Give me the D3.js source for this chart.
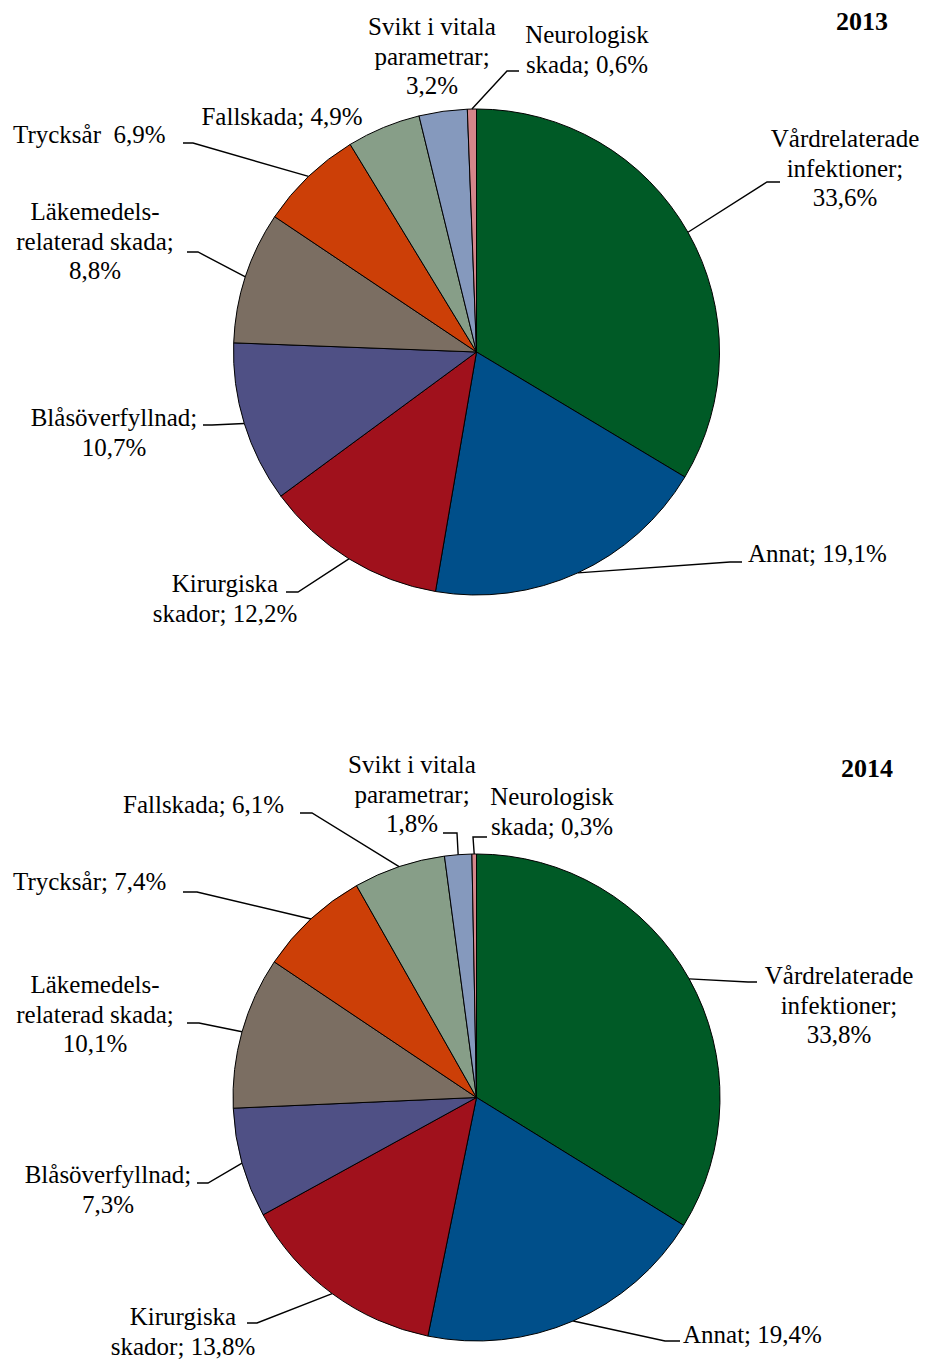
<!DOCTYPE html>
<html>
<head>
<meta charset="utf-8">
<script src="https://cdn.jsdelivr.net/npm/d3@7"></script>
<style>
	html, body { margin: 0; padding: 0; background: #fff; }
	svg text { font-family: "Times New Roman", "Liberation Serif", serif; font-size: 25px; fill: #000; white-space: pre; }
</style>
</head>
<body>
<div id="chart"></div>
<script>
// Data
const years = ["2013", "2014"];
const categories = [
	"Vårdrelaterade infektioner",
	"Annat",
	"Kirurgiska skador",
	"Blåsöverfyllnad",
	"Läkemedelsrelaterad skada",
	"Trycksår",
	"Fallskada",
	"Svikt i vitala parametrar",
	"Neurologisk skada",
];
const values2013 = [33.6, 19.1, 12.2, 10.7, 8.8, 6.9, 4.9, 3.2, 0.6];
const values2014 = [33.8, 19.4, 13.8, 7.3, 10.1, 7.4, 6.1, 1.8, 0.3];

// label text, {v} is replaced by the value
const labels2013 = [
	["Vårdrelaterade", "infektioner;", "{v}"],
	["Annat; {v}"],
	["Kirurgiska", "skador; {v}"],
	["Blåsöverfyllnad;", "{v}"],
	["Läkemedels-", "relaterad skada;", "{v}"],
	["Trycksår  {v}"],
	["Fallskada; {v}"],
	["Svikt i vitala", "parametrar;", "{v}"],
	["Neurologisk", "skada; {v}"],
];
const labels2014 = [
	["Vårdrelaterade", "infektioner;", "{v}"],
	["Annat; {v}"],
	["Kirurgiska", "skador; {v}"],
	["Blåsöverfyllnad;", "{v}"],
	["Läkemedels-", "relaterad skada;", "{v}"],
	["Trycksår; {v}"],
	["Fallskada; {v}"],
	["Svikt i vitala", "parametrar;", "{v}"],
	["Neurologisk", "skada; {v}"],
];

const colors = ["#005a26", "#004f8a", "#a0111c", "#4f5085", "#7b6e62", "#cc3f07", "#879e88", "#8599bd", "#d4868a"];

// Layout (label positions, leader stubs)
const layout2013 = {
	cx: 476.5, cy: 352, r: 243, title: [862, 30],
	labels: [
		{ x: 845, y: 147, anchor: "middle", stub: [[780, 182], [767, 182]] },
		{ x: 748, y: 562, anchor: "start", stub: [[742, 562], [730, 562]] },
		{ x: 225, y: 592, anchor: "middle", stub: [[286, 592], [298, 592]] },
		{ x: 114, y: 426, anchor: "middle", stub: [[203, 425], [212, 425]] },
		{ x: 95, y: 220, anchor: "middle", stub: [[187, 252], [198, 252]] },
		{ x: 13, y: 143, anchor: "start", stub: [[183, 143], [193, 143]] },
		{ x: 282, y: 125, anchor: "middle", stub: null },
		{ x: 432, y: 35, anchor: "middle", stub: null },
		{ x: 587, y: 43, anchor: "middle", stub: [[519, 71], [507, 71]] },
	],
};
const layout2014 = {
	cx: 476.5, cy: 1097.5, r: 243.5, title: [867, 777],
	labels: [
		{ x: 839, y: 984, anchor: "middle", stub: [[757, 982], [748, 982]] },
		{ x: 683, y: 1343, anchor: "start", stub: [[680, 1341], [665, 1341]] },
		{ x: 183, y: 1325, anchor: "middle", stub: [[247, 1323], [257, 1323]] },
		{ x: 108, y: 1183, anchor: "middle", stub: [[197, 1183], [208, 1183]] },
		{ x: 95, y: 993, anchor: "middle", stub: [[187, 1023], [199, 1023]] },
		{ x: 13, y: 890, anchor: "start", stub: [[183, 892], [197, 892]] },
		{ x: 123, y: 813, anchor: "start", stub: [[300, 813], [312, 813]] },
		{ x: 412, y: 773, anchor: "middle", stub: [[443, 833], [457, 833]] },
		{ x: 552, y: 805, anchor: "middle", stub: [[487, 837], [473, 837]] },
	],
};

const lineHeight = 29.5;
const fmt = (v) => d3.format(".1f")(v).replace(".", ",") + "%";

const svg = d3.select("#chart").append("svg").attr("width", 927).attr("height", 1359);

function drawPie(values, labels, year, lay) {
	const pie = d3.pie().sort(null).value((d) => d);
	const arcs = pie(values);
	const arc = d3.arc().innerRadius(0).outerRadius(lay.r);
	const edge = d3.arc().innerRadius(lay.r).outerRadius(lay.r);

	const g = svg.append("g").attr("transform", `translate(${lay.cx},${lay.cy})`);

	g.selectAll("path")
		.data(arcs)
		.enter()
		.append("path")
		.attr("d", arc)
		.attr("fill", (d, i) => colors[i])
		.attr("stroke", "#000")
		.attr("stroke-width", 1)
		.attr("stroke-linejoin", "round");

	// leader lines
	const line = d3.line();
	arcs.forEach((d, i) => {
		const l = lay.labels[i];
		if (!l.stub) return;
		const p = edge.centroid(d);
		const pts = l.stub.concat([[p[0] + lay.cx, p[1] + lay.cy]]);
		svg.append("path")
			.attr("d", line(pts))
			.attr("fill", "none")
			.attr("stroke", "#000")
			.attr("stroke-width", 1.4);
	});

	// labels
	labels.forEach((lines, i) => {
		const l = lay.labels[i];
		const t = svg.append("text")
			.attr("x", l.x)
			.attr("y", l.y)
			.attr("text-anchor", l.anchor)
			.attr("data-category", categories[i]);
		lines.forEach((s, k) => {
			t.append("tspan")
				.attr("x", l.x)
				.attr("dy", k === 0 ? 0 : lineHeight)
				.text(s.replace("{v}", fmt(values[i])));
		});
	});

	svg.append("text")
		.attr("x", lay.title[0])
		.attr("y", lay.title[1])
		.attr("text-anchor", "middle")
		.style("font-weight", "bold")
		.style("font-size", "26px")
		.text(year);
}

drawPie(values2013, labels2013, years[0], layout2013);
drawPie(values2014, labels2014, years[1], layout2014);
</script>
</body>
</html>
